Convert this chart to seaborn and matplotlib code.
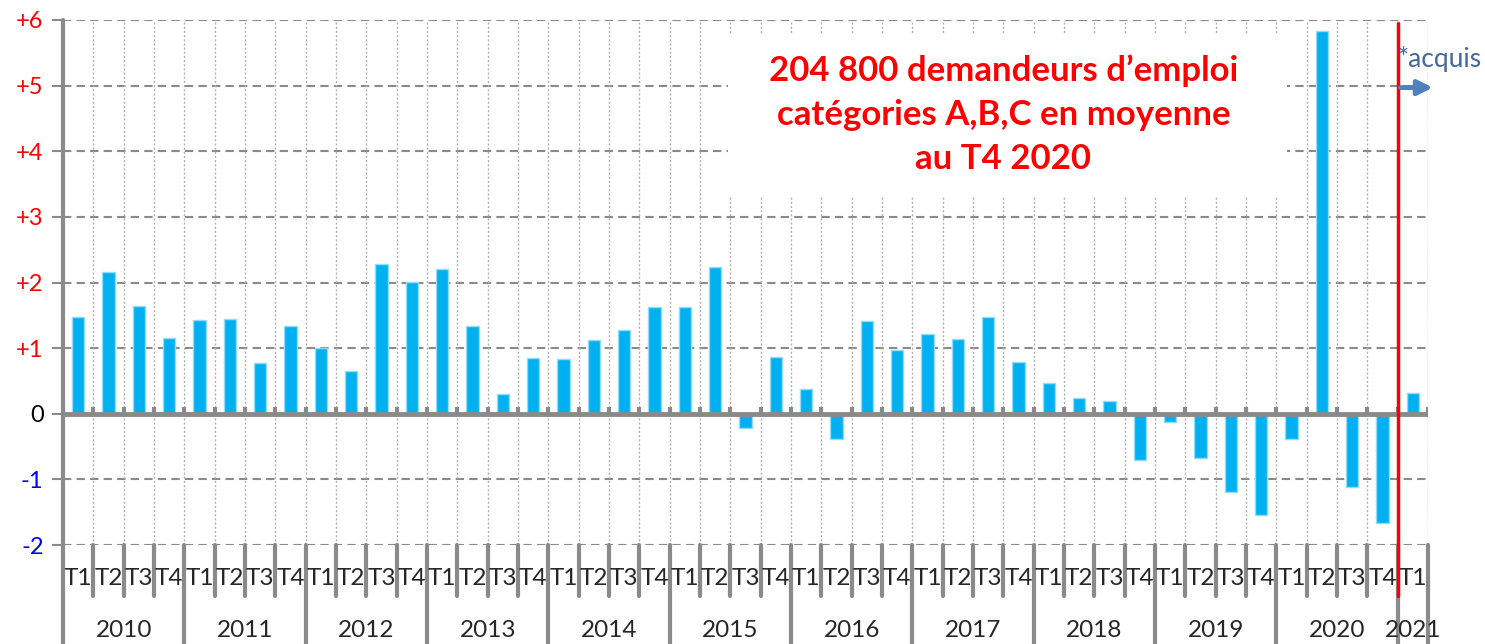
import matplotlib
matplotlib.use('Agg')
import matplotlib.pyplot as plt
import matplotlib.transforms as mtransforms
from matplotlib.patches import Rectangle
import seaborn as sns
import pandas as pd

# données : variation trimestrielle (en %) des demandeurs d'emploi
years = ['2010', '2011', '2012', '2013', '2014', '2015', '2016', '2017',
         '2018', '2019', '2020', '2021']
quarters = ['T1', 'T2', 'T3', 'T4']
values = [1.48, 2.16, 1.64, 1.16,
          1.43, 1.45, 0.77, 1.34,
          1.00, 0.65, 2.28, 2.01,
          2.21, 1.34, 0.30, 0.85,
          0.83, 1.13, 1.27, 1.63,
          1.62, 2.23, -0.22, 0.86,
          0.38, -0.38, 1.41, 0.97,
          1.21, 1.14, 1.47, 0.79,
          0.47, 0.24, 0.19, -0.70,
          -0.13, -0.67, -1.19, -1.55,
          -0.39, 5.83, -1.12, -1.66,
          0.32]
y_ticks = [-2, -1, 0, 1, 2, 3, 4, 5, 6]
title_text = "204 800 demandeurs d\u2019emploi\ncatégories A,B,C en moyenne\nau T4 2020"

labels = [f"{y} {q}" for y in years for q in quarters][:len(values)]
df = pd.DataFrame({'periode': labels, 'valeur': values})
df['trimestre'] = [l.split()[1] for l in labels]
df['annee'] = [l.split()[0] for l in labels]

sns.set_style('white')
plt.rcParams['font.family'] = ['Lato', 'DejaVu Sans']

W, H = 1485, 644
fig = plt.figure(figsize=(W / 100, H / 100), dpi=100)
ax = fig.add_axes([63 / W, (H - 545) / H, (1428 - 63) / W, (545 - 20) / H])

sns.barplot(data=df, x='periode', y='valeur', color='#00B0F0', saturation=1,
            width=0.4, edgecolor='#8FDDF8', linewidth=1, ax=ax, zorder=3)

n = len(values)
ax.set_xlim(-0.5, n - 0.5)
ax.set_ylim(-2, 6)
for s in ax.spines.values():
    s.set_visible(False)
ax.set_xlabel('')
ax.set_ylabel('')
ax.set_xticks([])

grey = '#8a8a8a'
# grille horizontale en tirets
for v in y_ticks:
    if v != 0:
        ax.axhline(v, color=grey, lw=1.5, ls=(0, (4, 2.5)), zorder=1)
# grille verticale pointillée
bounds = [i + 0.5 for i in range(n)]
ax.vlines(bounds, -2, 6, color='#b0b0b0', lw=1, ls=(0, (1.5, 1.5)), zorder=1)

# boîte blanche derrière le titre
ax.add_patch(Rectangle((0.487, 0.663), 0.41, 0.312, transform=ax.transAxes,
                       facecolor='white', edgecolor='none', zorder=2))
ax.text(0.689, 0.82, title_text, transform=ax.transAxes, ha='center',
        va='center', fontsize=25, fontweight='bold', color='#FF0000',
        linespacing=1.45, zorder=4)

# ligne du zéro avec petites graduations
ax.axhline(0, color=grey, lw=3.5, zorder=4)
ax.vlines([-0.5] + bounds, 0, 0.11, color=grey, lw=3, zorder=4)

# axe des y
ax.set_yticks(y_ticks)
ax.set_yticklabels(['-2', '-1', '0'] + [f'+{v}' for v in y_ticks[3:]], fontsize=17)
ax.tick_params(axis='y', length=8, width=1.5, color=grey, pad=6, left=True)
for lab, v in zip(ax.get_yticklabels(), y_ticks):
    lab.set_color('#FF0000' if v > 0 else ('#0000FF' if v < 0 else 'black'))

trans = mtransforms.blended_transform_factory(ax.transData, ax.transAxes)
# axe vertical prolongé vers le bas
ax.plot([-0.5, -0.5], [1, -0.189], transform=trans, color=grey, lw=3,
        clip_on=False, zorder=5)

# étiquettes T1..T4 et années
for i, row in df.iterrows():
    ax.text(i, -0.063, row['trimestre'], transform=trans, ha='center',
            va='center', fontsize=17.5, clip_on=False)
    xb = i + 0.5
    if row['trimestre'] == 'T4' or i == n - 1:
        ax.plot([xb, xb], [0, -0.189], transform=trans, color=grey, lw=3,
                clip_on=False)
    else:
        ax.plot([xb, xb], [0, -0.097], transform=trans, color=grey, lw=3,
                clip_on=False)
for yr in years:
    idx = df.index[df['annee'] == yr]
    ax.text(idx.values.mean(), -0.163, yr, transform=trans, ha='center',
            va='center', fontsize=17.5, clip_on=False)

# ligne rouge : début 2021
ax.plot([n - 1.5, n - 1.5], [0.995, -0.097], transform=trans, color='#FF0000',
        lw=2.5, clip_on=False, zorder=6)
ax.annotate('', xy=(n - 0.25, 4.97), xytext=(n - 1.5, 4.97),
            arrowprops=dict(arrowstyle='-|>', color='#4F81BD', lw=3.5,
                            mutation_scale=22),
            annotation_clip=False, zorder=6)
ax.text(n - 1.5, 5.4, '*acquis', ha='left', va='center', fontsize=19,
        color='#44689C', clip_on=False, zorder=6)

fig.savefig('out.png', dpi=100)
